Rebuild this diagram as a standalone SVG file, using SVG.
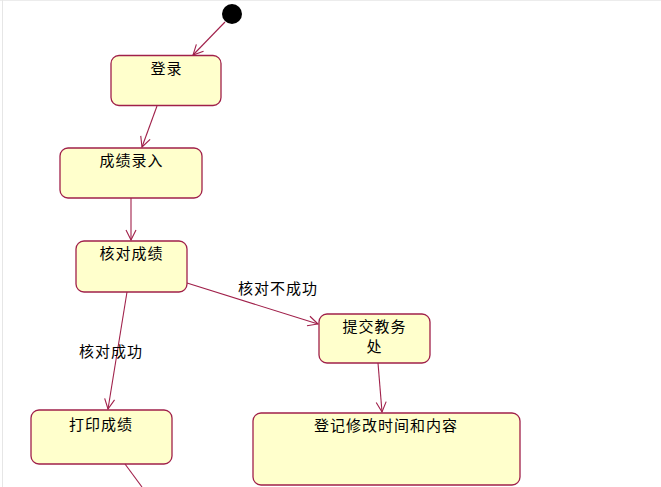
<svg xmlns="http://www.w3.org/2000/svg" width="661" height="487" viewBox="0 0 661 487">
<style>
.n{fill:#FFFFCC;stroke:#A0204A;stroke-width:1.3}
.t{font-family:"Liberation Sans","Noto Sans CJK SC",sans-serif;font-size:15px;letter-spacing:1px;fill:#000}
.c{text-anchor:middle}
.e{fill:none;stroke:#A0204A;stroke-width:1.1;marker-end:url(#a)}
</style>
<defs>
<marker id="a" viewBox="0 0 12 12" refX="11" refY="6" markerWidth="12" markerHeight="12" markerUnits="userSpaceOnUse" orient="auto">
<path d="M1,1 L11,6 L1,11" fill="none" stroke="#A0204A" stroke-width="1.1"/>
</marker>
</defs>
<rect x="0" y="0" width="661" height="487" fill="#fff"/>
<line x1="0" y1="0.5" x2="661" y2="0.5" stroke="#ececec"/>
<line x1="2.5" y1="0" x2="2.5" y2="487" stroke="#e6e6e6"/>
<g id="start"><circle cx="232" cy="14" r="10" fill="#000"/></g>
<g id="n1"><rect class="n" x="111" y="55.5" width="110" height="50" rx="8"/><text class="t c" x="166.5" y="74">登录</text></g>
<g id="n2"><rect class="n" x="60" y="148" width="142" height="50" rx="8"/><text class="t c" x="131.5" y="166">成绩录入</text></g>
<g id="n3"><rect class="n" x="76" y="241" width="111" height="51" rx="8"/><text class="t c" x="131.5" y="259">核对成绩</text></g>
<g id="n4"><rect class="n" x="319" y="314" width="111" height="49" rx="8"/><text class="t c" x="374.5" y="332">提交教务</text><text class="t c" x="374.5" y="352">处</text></g>
<g id="n5"><rect class="n" x="253" y="413" width="267" height="72" rx="8"/><text class="t c" x="386" y="431">登记修改时间和内容</text></g>
<g id="n6"><rect class="n" x="31" y="410" width="141" height="54" rx="8"/><text class="t c" x="101" y="430">打印成绩</text></g>
<g id="edges">
<line class="e" x1="225" y1="22" x2="193" y2="55"/>
<line class="e" x1="157" y1="106" x2="142" y2="147"/>
<line class="e" x1="131" y1="198" x2="131" y2="240"/>
<line class="e" x1="127" y1="292" x2="108" y2="409"/>
<line class="e" x1="187" y1="283" x2="318" y2="324"/>
<line class="e" x1="378" y1="363" x2="382" y2="412"/>
<line x1="125" y1="464" x2="142" y2="487" stroke="#A0204A" stroke-width="1.1"/>
<text class="t" x="238" y="294">核对不成功</text>
<text class="t" x="79" y="357">核对成功</text>
</g>
</svg>
